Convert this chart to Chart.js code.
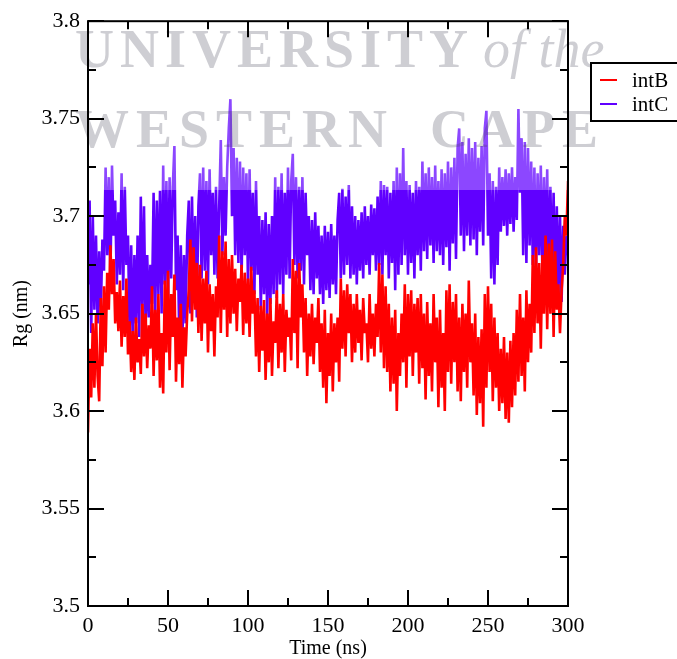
<!DOCTYPE html>
<html>
<head>
<meta charset="utf-8">
<script src="https://cdn.jsdelivr.net/npm/chart.js@4.4.0/dist/chart.umd.min.js"></script>
<style>
  html, body { margin: 0; padding: 0; background: #fff; }
  #wrap { width: 677px; height: 659px; }
</style>
</head>
<body>
<div id="wrap"><canvas id="rgChart" width="677" height="659"></canvas></div>
<script>
// radius of gyration, one sample per ns (0..300 ns)
const intB = [
  3.589, 3.632, 3.607, 3.645, 3.612, 3.650, 3.618, 3.605, 3.658, 3.623,
  3.664, 3.630, 3.671, 3.652, 3.685, 3.660, 3.678, 3.645, 3.661, 3.641,
  3.667, 3.633, 3.659, 3.638, 3.668, 3.629, 3.646, 3.620, 3.641, 3.616,
  3.648, 3.625, 3.637, 3.619, 3.655, 3.628, 3.650, 3.622, 3.644, 3.632,
  3.664, 3.618, 3.652, 3.626, 3.660, 3.612, 3.640, 3.609, 3.667, 3.630,
  3.672, 3.621, 3.660, 3.638, 3.670, 3.615, 3.648, 3.624, 3.655, 3.612,
  3.643, 3.628, 3.650, 3.662, 3.688, 3.646, 3.684, 3.652, 3.676, 3.640,
  3.675, 3.636, 3.668, 3.645, 3.672, 3.630, 3.665, 3.641, 3.660, 3.628,
  3.664, 3.648, 3.690, 3.640, 3.682, 3.652, 3.687, 3.638, 3.678, 3.645,
  3.680, 3.650, 3.673, 3.641, 3.668, 3.656, 3.675, 3.639, 3.671, 3.645,
  3.668, 3.638, 3.674, 3.650, 3.662, 3.628, 3.658, 3.620, 3.654, 3.631,
  3.657, 3.616, 3.650, 3.625, 3.658, 3.618, 3.646, 3.635, 3.662, 3.622,
  3.655, 3.630, 3.660, 3.620, 3.652, 3.638, 3.648, 3.626, 3.678, 3.640,
  3.672, 3.622, 3.676, 3.648, 3.665, 3.630, 3.658, 3.618, 3.650, 3.628,
  3.655, 3.624, 3.648, 3.635, 3.658, 3.620, 3.645, 3.612, 3.652, 3.604,
  3.640, 3.618, 3.650, 3.610, 3.645, 3.625, 3.648, 3.615, 3.668, 3.632,
  3.662, 3.628, 3.665, 3.640, 3.660, 3.625, 3.655, 3.630, 3.660, 3.635,
  3.652, 3.626, 3.658, 3.640, 3.645, 3.625, 3.660, 3.632, 3.650, 3.628,
  3.655, 3.638, 3.676, 3.630, 3.670, 3.622, 3.664, 3.620, 3.655, 3.610,
  3.648, 3.614, 3.652, 3.600, 3.640, 3.618, 3.650, 3.625, 3.665, 3.612,
  3.660, 3.628, 3.662, 3.618, 3.655, 3.630, 3.658, 3.614, 3.660, 3.622,
  3.650, 3.606, 3.656, 3.618, 3.645, 3.610, 3.660, 3.625, 3.648, 3.602,
  3.652, 3.612, 3.640, 3.600, 3.662, 3.620, 3.665, 3.614, 3.656, 3.625,
  3.660, 3.610, 3.648, 3.605, 3.655, 3.620, 3.650, 3.612, 3.667, 3.625,
  3.645, 3.608, 3.650, 3.598, 3.638, 3.604, 3.642, 3.592, 3.660, 3.612,
  3.664, 3.620, 3.655, 3.605, 3.648, 3.612, 3.640, 3.600, 3.632, 3.604,
  3.638, 3.596, 3.630, 3.594, 3.636, 3.602, 3.640, 3.608, 3.652, 3.615,
  3.660, 3.618, 3.648, 3.610, 3.662, 3.625, 3.655, 3.630, 3.680, 3.640,
  3.684, 3.645, 3.676, 3.632, 3.680, 3.650, 3.690, 3.642, 3.686, 3.650,
  3.688, 3.638, 3.682, 3.652, 3.665, 3.640, 3.662, 3.675, 3.700, 3.690,
  3.718
];

const intC = [
  3.665, 3.708, 3.640, 3.700, 3.652, 3.690, 3.645, 3.682, 3.650, 3.688,
  3.672, 3.725, 3.680, 3.720, 3.668, 3.726, 3.690, 3.708, 3.665, 3.702,
  3.670, 3.722, 3.662, 3.715, 3.675, 3.690, 3.640, 3.685, 3.632, 3.680,
  3.645, 3.690, 3.638, 3.710, 3.650, 3.705, 3.642, 3.680, 3.648, 3.675,
  3.655, 3.712, 3.648, 3.708, 3.660, 3.713, 3.650, 3.726, 3.665, 3.718,
  3.655, 3.720, 3.668, 3.715, 3.736, 3.662, 3.690, 3.640, 3.685, 3.636,
  3.680, 3.645, 3.690, 3.708, 3.650, 3.710, 3.660, 3.700, 3.648, 3.705,
  3.722, 3.668, 3.725, 3.672, 3.718, 3.665, 3.724, 3.680, 3.712, 3.670,
  3.715, 3.668, 3.705, 3.739, 3.680, 3.720, 3.690, 3.725, 3.745, 3.760,
  3.700, 3.735, 3.680, 3.730, 3.676, 3.728, 3.668, 3.725, 3.680, 3.722,
  3.665, 3.724, 3.672, 3.712, 3.660, 3.718, 3.670, 3.700, 3.652, 3.698,
  3.660, 3.702, 3.648, 3.696, 3.655, 3.700, 3.660, 3.720, 3.658, 3.715,
  3.665, 3.722, 3.660, 3.712, 3.670, 3.725, 3.668, 3.718, 3.732, 3.675,
  3.720, 3.668, 3.715, 3.672, 3.720, 3.665, 3.712, 3.680, 3.700, 3.662,
  3.698, 3.660, 3.702, 3.668, 3.695, 3.660, 3.690, 3.655, 3.695, 3.662,
  3.692, 3.658, 3.696, 3.665, 3.690, 3.660, 3.698, 3.712, 3.668, 3.714,
  3.670, 3.710, 3.675, 3.716, 3.668, 3.705, 3.670, 3.700, 3.665, 3.698,
  3.672, 3.702, 3.668, 3.705, 3.675, 3.700, 3.670, 3.706, 3.680, 3.704,
  3.672, 3.710, 3.675, 3.718, 3.670, 3.716, 3.680, 3.715, 3.668, 3.712,
  3.676, 3.718, 3.662, 3.725, 3.670, 3.722, 3.675, 3.735, 3.680, 3.718,
  3.670, 3.716, 3.676, 3.712, 3.668, 3.718, 3.680, 3.715, 3.672, 3.728,
  3.682, 3.722, 3.678, 3.725, 3.685, 3.720, 3.676, 3.726, 3.682, 3.718,
  3.680, 3.724, 3.675, 3.722, 3.684, 3.728, 3.672, 3.725, 3.686, 3.730,
  3.678, 3.735, 3.745, 3.690, 3.738, 3.682, 3.732, 3.690, 3.740, 3.685,
  3.735, 3.688, 3.738, 3.680, 3.730, 3.692, 3.736, 3.685, 3.745, 3.754,
  3.690, 3.722, 3.668, 3.718, 3.665, 3.715, 3.675, 3.725, 3.692, 3.720,
  3.695, 3.724, 3.690, 3.722, 3.696, 3.725, 3.692, 3.720, 3.698, 3.755,
  3.712, 3.740, 3.680, 3.738, 3.676, 3.735, 3.685, 3.728, 3.675, 3.725,
  3.672, 3.722, 3.680, 3.726, 3.670, 3.720, 3.678, 3.724, 3.665, 3.715,
  3.668, 3.712, 3.662, 3.705, 3.660, 3.700, 3.656, 3.695, 3.670, 3.690,
  3.680
];

const seriesNames = ["intB", "intC"];
const seriesColors = ["#ff0000", "#6000ff"];
const xTicks = [0, 50, 100, 150, 200, 250, 300];
const yTicks = [3.5, 3.55, 3.6, 3.65, 3.7, 3.75, 3.8];

const serif = "'Liberation Serif', 'DejaVu Serif', serif";

function toPoints(values) {
  return values.map((v, i) => ({ x: i, y: v }));
}

// draws a string one glyph at a time with extra tracking
function spacedText(ctx, text, x, y, spacing) {
  for (const ch of text) {
    ctx.fillText(ch, x, y);
    x += ctx.measureText(ch).width + spacing;
  }
}

const gracePlugin = {
  id: "graceFrame",
  afterDraw(chart) {
    const { ctx, chartArea: a, scales } = chart;
    const xs = scales.x, ys = scales.y;
    ctx.save();

    // washed-out banner across the top
    ctx.fillStyle = "rgba(255,255,255,0.28)";
    ctx.fillRect(86, 0, 520, 190);
    ctx.fillStyle = "rgba(60,60,80,0.25)";
    ctx.textBaseline = "alphabetic";
    ctx.font = "bold 54px " + serif;
    spacedText(ctx, "UNIVERSITY", 75, 67, 6);
    spacedText(ctx, "WESTERN", 75, 147, 7);
    spacedText(ctx, "CAPE", 430, 147, 7);
    ctx.font = "italic 54px " + serif;
    ctx.fillText("of the", 483, 67);

    // frame
    ctx.strokeStyle = "#000";
    ctx.lineWidth = 2;
    ctx.strokeRect(a.left, a.top, a.right - a.left, a.bottom - a.top);

    // inward ticks on all four sides
    ctx.beginPath();
    for (let t = 0; t <= 300; t += 25) {
      const px = Math.round(xs.getPixelForValue(t));
      const len = t % 50 === 0 ? 16 : 8;
      ctx.moveTo(px, a.bottom); ctx.lineTo(px, a.bottom - len);
      ctx.moveTo(px, a.top); ctx.lineTo(px, a.top + len);
    }
    for (let k = 0; k <= 12; k++) {
      const py = Math.round(ys.getPixelForValue(3.5 + k * 0.025));
      const len = k % 2 === 0 ? 16 : 8;
      ctx.moveTo(a.left, py); ctx.lineTo(a.left + len, py);
      ctx.moveTo(a.right, py); ctx.lineTo(a.right - len, py);
    }
    ctx.stroke();

    // legend box
    ctx.fillStyle = "#fff";
    ctx.fillRect(591, 63, 90, 58);
    ctx.strokeRect(591, 63, 90, 58);
    ctx.font = "21px " + serif;
    ctx.textBaseline = "middle";
    seriesNames.forEach((name, i) => {
      const y = 80 + i * 24;
      ctx.strokeStyle = seriesColors[i];
      ctx.lineWidth = 2;
      ctx.beginPath();
      ctx.moveTo(600, y); ctx.lineTo(617, y);
      ctx.stroke();
      ctx.fillStyle = "#000";
      ctx.fillText(name, 632, y + 1);
    });
    ctx.restore();
  }
};

const ctx = document.getElementById("rgChart").getContext("2d");

new Chart(ctx, {
  type: "line",
  data: {
    datasets: [
      {
        label: seriesNames[0],
        data: toPoints(intB),
        borderColor: seriesColors[0],
        borderWidth: 2.6,
        borderJoinStyle: "bevel",
        pointRadius: 0,
        tension: 0,
      },
      {
        label: seriesNames[1],
        data: toPoints(intC),
        borderColor: seriesColors[1],
        borderWidth: 2.6,
        borderJoinStyle: "bevel",
        pointRadius: 0,
        tension: 0,
      },
    ],
  },
  options: {
    responsive: false,
    animation: false,
    devicePixelRatio: 1,
    layout: { padding: { top: 21, right: 109, left: 0, bottom: 0 } },
    plugins: {
      legend: { display: false },
      tooltip: { enabled: false },
    },
    scales: {
      x: {
        type: "linear",
        min: 0,
        max: 300,
        afterFit: (scale) => { scale.height = 53; },
        afterBuildTicks: (scale) => { scale.ticks = xTicks.map((v) => ({ value: v })); },
        grid: { display: false, drawTicks: false },
        border: { display: false },
        ticks: {
          color: "#000",
          padding: 7,
          maxRotation: 0,
          font: { family: serif, size: 22 },
        },
        title: {
          display: true,
          text: "Time (ns)",
          color: "#000",
          padding: { top: 0, bottom: 0 },
          font: { family: serif, size: 20, lineHeight: 1 },
        },
      },
      y: {
        min: 3.5,
        max: 3.8,
        afterFit: (scale) => { scale.width = 88; },
        afterBuildTicks: (scale) => { scale.ticks = yTicks.map((v) => ({ value: v })); },
        grid: { display: false, drawTicks: false },
        border: { display: false },
        ticks: {
          color: "#000",
          padding: 8,
          font: { family: serif, size: 22 },
          callback: (v) => String(Number(v.toFixed(2))),
        },
        title: {
          display: true,
          text: "Rg (nm)",
          color: "#000",
          padding: { top: 12, bottom: 0 },
          font: { family: serif, size: 20, lineHeight: 1 },
        },
      },
    },
  },
  plugins: [gracePlugin],
});
</script>
</body>
</html>
